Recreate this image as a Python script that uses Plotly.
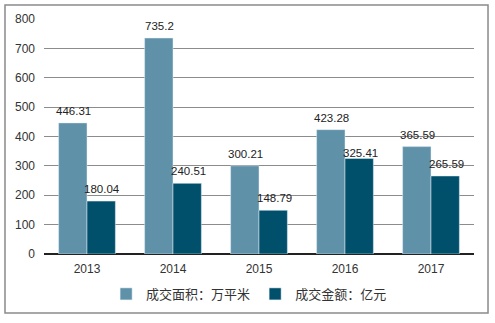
import plotly.graph_objects as go

years = ["2013", "2014", "2015", "2016", "2017"]
area = [446.31, 735.2, 300.21, 423.28, 365.59]
amount = [180.04, 240.51, 148.79, 325.41, 265.59]
name_area = "成交面积：万平米"
name_amount = "成交金额：亿元"

font = "Liberation Sans, Arial, Noto Sans CJK SC, sans-serif"

fig = go.Figure()
fig.add_trace(go.Bar(x=years, y=area, name=name_area, marker_color="#5f91a9"))
fig.add_trace(go.Bar(x=years, y=amount, name=name_amount, marker_color="#00506b"))

for i, v in enumerate(area):
    fig.add_annotation(x=i, y=v, text=str(v), showarrow=False, xshift=-14, yshift=12,
                       font=dict(size=11.5, color="#222"))
for i, v in enumerate(amount):
    fig.add_annotation(x=i, y=v, text=str(v), showarrow=False, xshift=15,
                       yshift=5 if i == 3 else 12,
                       font=dict(size=11.5, color="#222"))

fig.update_layout(
    width=495, height=323,
    margin=dict(l=44, r=21, t=19, b=69),
    paper_bgcolor="white", plot_bgcolor="white",
    barmode="group", bargap=0.34, bargroupgap=0,
    font=dict(family=font, size=12, color="#333"),
    showlegend=True,
    legend=dict(orientation="h", x=0.477, xanchor="center", y=-0.17, yanchor="middle",
                font=dict(size=13, color="#333"), itemwidth=30, traceorder="normal"),
    xaxis=dict(type="category", showgrid=False, ticks="", tickfont=dict(size=12, color="#333"),
               showline=False, ticklabelstandoff=6),
    yaxis=dict(range=[0, 800], dtick=100, showgrid=True, gridcolor="#8c8c8c",
               gridwidth=1, zeroline=True, zerolinecolor="#222", zerolinewidth=1.5,
               tickfont=dict(size=12, color="#333"), ticks="", ticklabelstandoff=8),
)
fig.add_shape(type="rect", xref="paper", yref="paper",
              x0=-0.0907, x1=1.0326, y0=-0.251, y1=1.0596,
              line=dict(color="#8a8a8a", width=1.5), fillcolor="rgba(0,0,0,0)", layer="below")

fig.write_html("out.html")
